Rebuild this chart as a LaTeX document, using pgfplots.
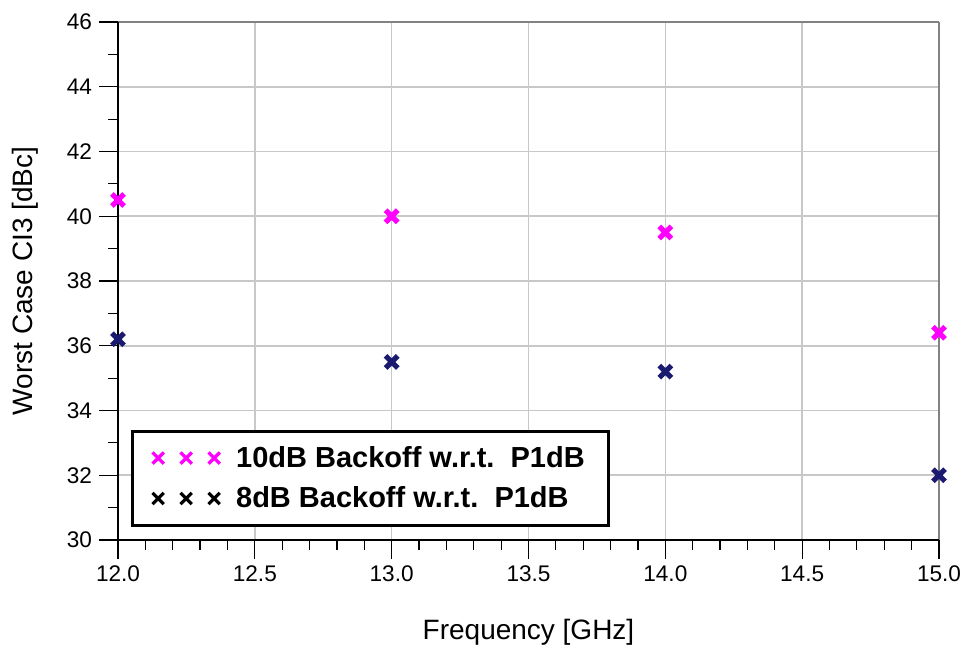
\documentclass[border=0pt]{standalone}
\usepackage{fontspec}
\setmainfont{Liberation Sans}
\usepackage{pgfplots}
\pgfplotsset{compat=1.18}
\definecolor{mag}{RGB}{255,0,255}
\definecolor{navy}{RGB}{26,26,112}
\definecolor{gridgray}{RGB}{200,200,200}
\definecolor{framegray}{RGB}{130,130,130}
\begin{document}
\begin{tikzpicture}
\begin{axis}[
 scale only axis, width=410.5pt, height=259pt,
 at={(0,0)}, anchor=south west,
 xmin=12, xmax=15, ymin=30, ymax=46,
 xtick={12,12.5,...,15}, ytick={30,32,...,46},
 minor x tick num=4, minor y tick num=1,
 xticklabel style={/pgf/number format/.cd, fixed, fixed zerofill, precision=1},
 /pgf/number format/assume math mode=true,
 ticklabel style={font=\fontsize{11.3}{13}\selectfont},
 tick align=outside, tick pos=left,
 major tick length=9.5pt, minor tick length=5pt,
 tick style={black, line width=0.6pt},
 grid=major, major grid style={gridgray, line width=0.8pt},
 axis line style={draw=none},
 clip=false,
 xlabel={Frequency [GHz]}, ylabel={Worst Case CI3 [dBc]},
 label style={font=\fontsize{14}{16}\selectfont},
 xlabel style={at={(axis description cs:0.5,-0.1776)}, anchor=center},
 ylabel style={at={(axis description cs:-0.1133,0.5)}, anchor=center},
 legend style={at={(rel axis cs:0,0)}, anchor=south west, xshift=6.5pt, yshift=6.5pt,
   draw=black, line width=1.5pt, font=\bfseries\fontsize{14.5}{17}\selectfont,
   inner xsep=10pt, inner ysep=5.5pt, row sep=4.2pt},
 legend cell align=left,
]
\addlegendimage{legend image code/.code={\path[draw=none] (-2pt,-4pt) rectangle (37pt,4pt);\draw[mag, line width=1.6pt] plot[only marks, mark=x, mark size=4pt] coordinates {(0pt,0pt) (14pt,0pt) (28pt,0pt)};}}
\addlegendentry{10dB Backoff w.r.t.\ \ P1dB\hspace{2.5pt}}
\addlegendimage{legend image code/.code={\path[draw=none] (-2pt,-4pt) rectangle (37pt,4pt);\draw[black, line width=1.6pt] plot[only marks, mark=x, mark size=4pt] coordinates {(0pt,0pt) (14pt,0pt) (28pt,0pt)};}}
\addlegendentry{8dB Backoff w.r.t.\ \ P1dB}

\draw[framegray, line width=1pt] (rel axis cs:0,1) -- (rel axis cs:1,1);
\draw[framegray, line width=0.7pt] (rel axis cs:1,0) -- (rel axis cs:1,1);
\draw[black, line width=1pt] (rel axis cs:0,0) -- (rel axis cs:1,0);
\draw[black, line width=1pt] (rel axis cs:0,0) -- (rel axis cs:0,1);

\addplot[only marks, mark=x, mark size=4.3pt, color=mag, line width=2.6pt, forget plot] coordinates {(12,40.5) (13,40.0) (14,39.5) (15,36.4)};
\addplot[only marks, mark=x, mark size=4.3pt, color=navy, line width=2.6pt, forget plot] coordinates {(12,36.2) (13,35.5) (14,35.2) (15,32.0)};
\end{axis}
\pgfresetboundingbox
\path (-59pt,-55pt) rectangle (424pt,270pt);
\end{tikzpicture}
\end{document}
